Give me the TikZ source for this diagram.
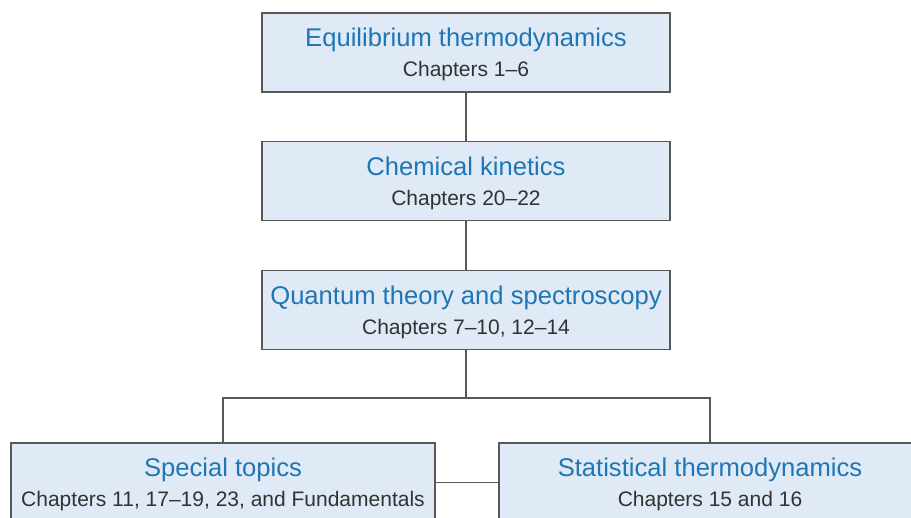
\documentclass[tikz,border=0pt]{standalone}
\usepackage{fontspec}
\setmainfont{Liberation Sans}
\usetikzlibrary{positioning}
\definecolor{boxfill}{RGB}{224,234,246}
\definecolor{boxline}{RGB}{88,88,88}
\definecolor{headblue}{RGB}{30,118,180}
\definecolor{chapgray}{RGB}{50,50,50}
\tikzset{
  blk/.style={rectangle, draw=boxline, line width=1.2pt, fill=boxfill,
              minimum height=79pt, align=center, inner sep=0pt,
              font=\fontsize{21}{30}\selectfont},
  ln/.style={draw=boxline, line width=1.2pt},
}
\newcommand{\boxhead}[1]{{\fontsize{25.6}{30}\selectfont\color{headblue}\rule{0pt}{23pt}#1}}
\newcommand{\boxchap}[1]{{\color{chapgray}#1}}

\begin{document}
\begin{tikzpicture}[x=1pt,y=-1pt]
\useasboundingbox (0,0) rectangle (911,518);
\clip (0,0) rectangle (911,518);
% main chain
\node[blk, minimum width=408pt] (equil) at (466,52.5)
  {\boxhead{Equilibrium thermodynamics}\\\boxchap{Chapters 1–6}};
\node[blk, minimum width=408pt, below=48pt of equil] (kinet)
  {\boxhead{Chemical kinetics}\\\boxchap{Chapters 20–22}};
\node[blk, minimum width=408pt, below=49pt of kinet] (quant)
  {\boxhead{Quantum theory and spectroscopy}\\\boxchap{Chapters 7–10, 12–14}};
% bottom row
\node[blk, minimum width=424pt] (special) at (223,482.5)
  {\boxhead{Special topics}\\\boxchap{Chapters 11, 17–19, 23, and Fundamentals}};
\node[blk, minimum width=422pt] (stat) at (710,482.5)
  {\boxhead{Statistical thermodynamics}\\\boxchap{Chapters 15 and 16}};
\coordinate[below=48pt of quant] (fork);
% connectors
\draw[ln] (equil) -- (kinet);
\draw[ln] (kinet) -- (quant);
\draw[ln] (quant) -- (fork);
\draw[ln] (fork) -| (special);
\draw[ln] (fork) -| (stat);
\draw[ln] (special) -- (stat);
\end{tikzpicture}
\end{document}
